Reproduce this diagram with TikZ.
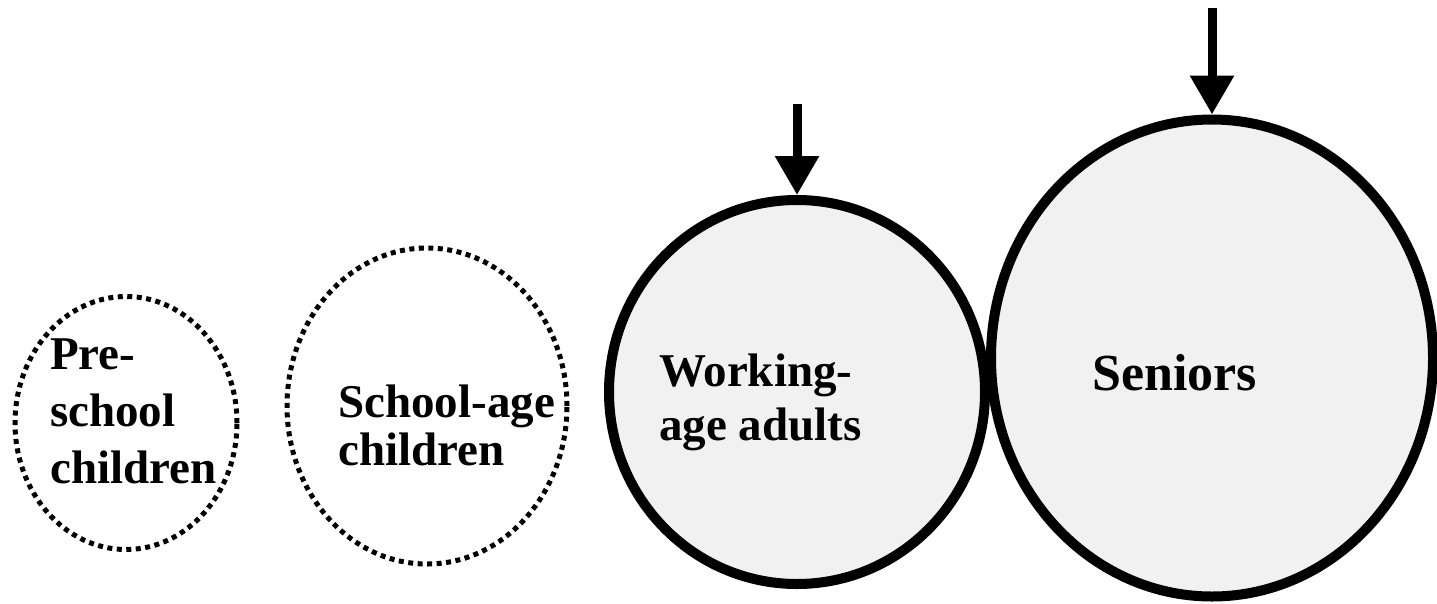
\documentclass[tikz,border=0pt]{standalone}
\usepackage{fontspec}
\setmainfont{Liberation Serif}
\usetikzlibrary{shapes.geometric,arrows.meta}
\definecolor{groupfill}{HTML}{F1F1F1}
\begin{document}
\begin{tikzpicture}[x=1pt, y=-1pt,
  young/.style = {draw, ellipse, inner sep=0pt, line width=5pt, dash pattern=on 5pt off 4.5pt},
  grown/.style = {draw, ellipse, inner sep=0pt, line width=10pt, fill=groupfill},
  lbl/.style = {anchor=base west, inner sep=0pt, align=left, font=\bfseries\fontsize{47}{#1}\selectfont},
  lbl/.default = 57,
  push/.style = {line width=9pt, -{Triangle[length=39pt,width=42pt]}}]
\useasboundingbox (0,0) rectangle (1437,603);
% age groups
\node[young, minimum width=222pt, minimum height=253pt] (1) at (126,423) {};
\node[young, minimum width=280pt, minimum height=316pt] (2) at (427,406) {};
\node[grown, minimum width=376pt, minimum height=384pt] (3) at (797,392) {};
\node[grown, minimum width=442pt, minimum height=477pt] (4) at (1212,358) {};
% labels (base = last line)
\node[lbl] (1a) at (50,483) {Pre-\\school\\children};
\node[lbl=48] (2a) at (338,465) {School-age\\children};
\node[lbl=54] (3a) at (659,440) {Working-\\age adults};
\node[lbl, font=\bfseries\fontsize{52}{60}\selectfont] (4a) at (1092,390) {Seniors};
% arrows
\coordinate (3top) at (797,104);
\coordinate (4top) at (1212,8);
\draw[push] (3top) -- (3.north);
\draw[push] (4top) -- (4.north);
\end{tikzpicture}
\end{document}
